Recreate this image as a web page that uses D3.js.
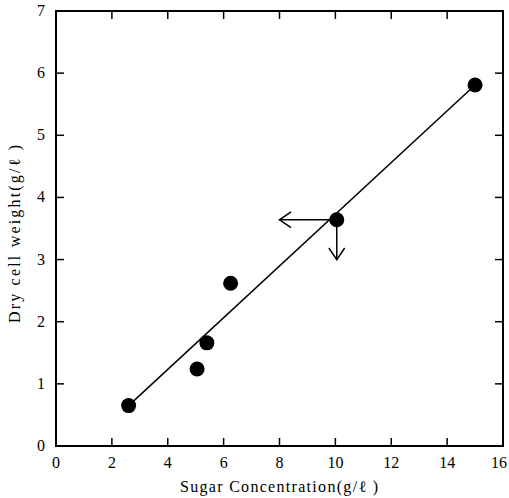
<!DOCTYPE html>
<html>
<head>
<meta charset="utf-8">
<script src="https://cdn.jsdelivr.net/npm/d3@7"></script>
<style>
body{margin:0;background:#fff;}
text{font-family:"Liberation Serif","DejaVu Serif",serif;fill:#000;}
</style>
</head>
<body>
<svg id="canvas" width="509" height="498"></svg>
<script>
// data
sugar=[2.6,5.05,5.4,6.25,10.05,15.0];
weight=[0.65,1.24,1.66,2.62,3.64,5.81];
fitLine=[[2.6,0.65],[15.0,5.81]];
xTicks=[0,2,4,6,8,10,12,14,16];
yTicks=[0,1,2,3,4,5,6,7];
readX=8.0;   // arrow tip on x
readY=3.0;   // arrow tip on y

var W=509;
var PL=56,PR=503,PT=11,PB=446;
var svg=d3.select("#canvas");
var x=d3.scaleLinear().domain([0,16]).range([PL,PR]);
var y=d3.scaleLinear().domain([0,7]).range([PB,PT]);

// frame
svg.append("rect").attr("x",PL).attr("y",PT)
  .attr("width",PR-PL).attr("height",PB-PT)
  .attr("fill","none").attr("stroke","#000").attr("stroke-width",2);

// inward ticks on all four sides
var tl=8;
xTicks.slice(1,-1).forEach(function(t){
  svg.append("line").attr("x1",x(t)).attr("x2",x(t)).attr("y1",PB).attr("y2",PB-tl)
    .attr("stroke","#000").attr("stroke-width",1.5);
  svg.append("line").attr("x1",x(t)).attr("x2",x(t)).attr("y1",PT).attr("y2",PT+tl)
    .attr("stroke","#000").attr("stroke-width",1.5);
});
yTicks.slice(1,-1).forEach(function(t){
  svg.append("line").attr("x1",PL).attr("x2",PL+tl).attr("y1",y(t)).attr("y2",y(t))
    .attr("stroke","#000").attr("stroke-width",1.5);
  svg.append("line").attr("x1",PR).attr("x2",PR-tl).attr("y1",y(t)).attr("y2",y(t))
    .attr("stroke","#000").attr("stroke-width",1.5);
});

svg.selectAll("text.xt").data(xTicks).enter().append("text")
  .attr("class","xt").attr("x",function(d){return Math.min(x(d),W-10);}).attr("y",PB+22)
  .attr("text-anchor","middle").attr("font-size","16px").text(function(d){return d;});
svg.selectAll("text.yt").data(yTicks).enter().append("text")
  .attr("class","yt").attr("x",PL-11).attr("y",function(d){return y(d)+5;})
  .attr("text-anchor","end").attr("font-size","16px").text(function(d){return d;});

// axis titles
svg.append("text").attr("x",180).attr("y",492)
  .attr("font-size","16px").attr("textLength",198).attr("lengthAdjust","spacing")
  .text("Sugar Concentration(g/\u2113 )");
svg.append("text").attr("transform","translate(20,323) rotate(-90)")
  .attr("font-size","16px").attr("textLength",178).attr("lengthAdjust","spacing")
  .text("Dry cell weight(g/\u2113 )");

// fitted line
svg.append("line")
  .attr("x1",x(fitLine[0][0])).attr("y1",y(fitLine[0][1]))
  .attr("x2",x(fitLine[1][0])).attr("y2",y(fitLine[1][1]))
  .attr("stroke","#000").attr("stroke-width",1.5);

// reading arrows from the point at sugar 10
var px=x(sugar[4]),py=y(weight[4]);
function arrow(x1,y1,x2,y2){
  svg.append("line").attr("x1",x1).attr("y1",y1).attr("x2",x2).attr("y2",y2)
    .attr("stroke","#000").attr("stroke-width",1.5);
  var a=Math.atan2(y2-y1,x2-x1),s=14,w=0.6;
  svg.append("path")
    .attr("d","M"+(x2-s*Math.cos(a-w))+","+(y2-s*Math.sin(a-w))+"L"+x2+","+y2+
      "L"+(x2-s*Math.cos(a+w))+","+(y2-s*Math.sin(a+w)))
    .attr("fill","none").attr("stroke","#000").attr("stroke-width",1.5);
}
arrow(px,py,x(readX),py);
arrow(px,py,px,y(readY));

// points
svg.selectAll("circle").data(sugar).enter().append("circle")
  .attr("cx",function(d){return x(d);})
  .attr("cy",function(d,i){return y(weight[i]);})
  .attr("r",7.5).attr("fill","#000");
</script>
</body>
</html>
